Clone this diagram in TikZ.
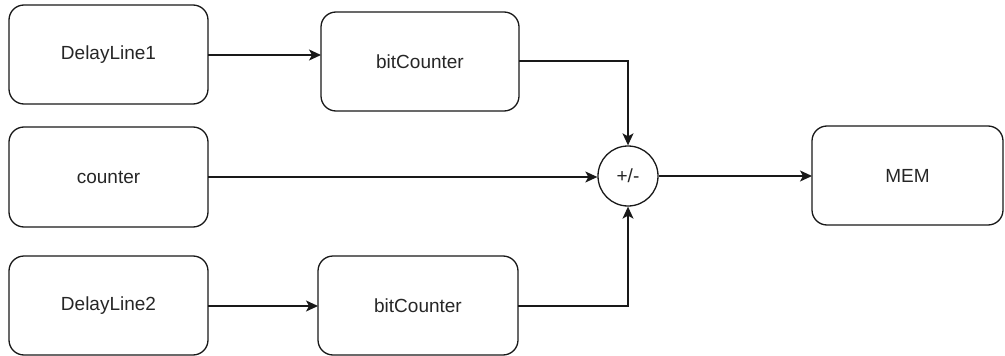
\documentclass[tikz,border=0pt]{standalone}
\usepackage{fontspec}
\setmainfont{Liberation Sans}
\usetikzlibrary{arrows.meta}
\begin{document}
\begin{tikzpicture}[x=1pt,y=-1pt,
  blockbox/.style={draw=black!90, line width=1.3pt, rounded corners=15pt, inner sep=0pt,
    text=black!85, font=\fontsize{19}{23}\selectfont},
  sumnode/.style={draw=black!90, line width=1.3pt, circle, minimum size=60pt, inner sep=0pt,
    text=black!85, font=\fontsize{19}{23}\selectfont},
  link/.style={draw=black!90, line width=1.3pt, -{Stealth[length=12pt,width=11pt,inset=3pt]}}]
  \useasboundingbox (0,0) rectangle (1005,356);
  % blocks (corner to corner)
  \path[blockbox] (9,5) rectangle (208,104) node[midway] (dl1) {DelayLine1};
  \coordinate (dl1E) at (208,55);
  \path[blockbox] (321,12) rectangle (519,111) node[midway] (bc1) {bitCounter};
  \coordinate (bc1W) at (321,55);
  \coordinate (bc1E) at (519,61);
  \path[blockbox] (9,127) rectangle (208,227) node[midway] (cnt) {counter};
  \coordinate (cntE) at (208,177);
  \path[blockbox] (9,256) rectangle (208,355) node[midway] (dl2) {DelayLine2};
  \coordinate (dl2E) at (208,306);
  \path[blockbox] (318,256) rectangle (518,355) node[midway] (bc2) {bitCounter};
  \coordinate (bc2W) at (318,306);
  \coordinate (bc2E) at (518,306);
  \path[blockbox] (812,126) rectangle (1003,225) node[midway] (mem) {MEM};
  \coordinate (memW) at (812,176);
  % adder / subtractor
  \node[sumnode] (sum) at (628,176) {+/-};
  % connectors
  \draw[link] (dl1E) -- (bc1W);
  \draw[link] (dl2E) -- (bc2W);
  \draw[link] (bc1E) -| (sum.north);
  \draw[link] (bc2E) -| (sum.south);
  \draw[link] (cntE) -- (cntE -| sum.west);
  \draw[link] (sum.east) -- (memW);
\end{tikzpicture}
\end{document}
